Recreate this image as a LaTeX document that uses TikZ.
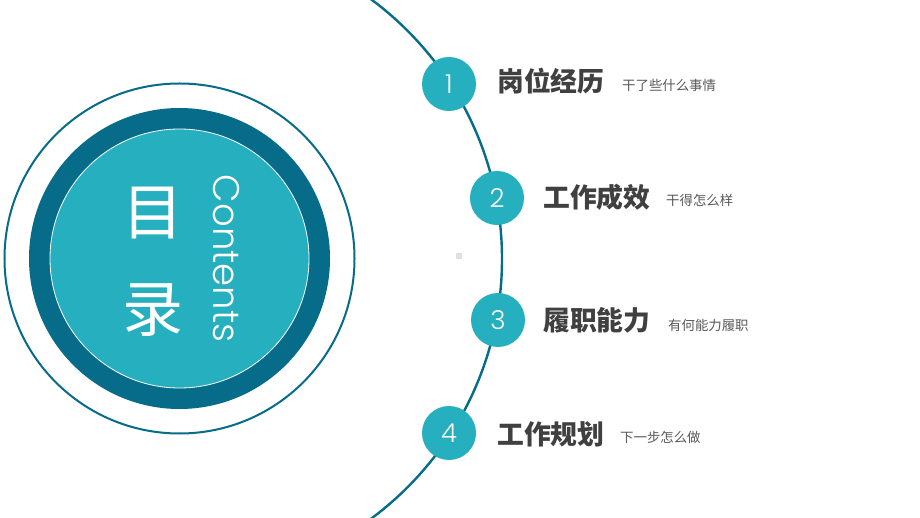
\documentclass[tikz,border=0pt]{standalone}
\usepackage{fontspec}
\setmainfont{Poppins}
\newfontfamily\cjk{Noto Sans CJK SC}
\newfontfamily\thinfont{Poppins Light}
\definecolor{darkteal}{RGB}{6,108,138}
\definecolor{lightteal}{RGB}{37,175,191}
\definecolor{titlegray}{RGB}{64,64,64}
\definecolor{subgray}{RGB}{89,89,89}
\definecolor{dotgray}{RGB}{224,224,224}
\tikzset{
  numcircle/.style={circle, fill=lightteal, minimum size=54pt, inner sep=0pt, text=white, font=\thinfont\fontsize{26}{26}\selectfont},
  titletext/.style={anchor=west, inner sep=0pt, text=titlegray, font=\cjk\bfseries\fontsize{26.8}{26.8}\selectfont},
  subtext/.style={anchor=west, inner sep=0pt, text=subgray, font=\cjk\fontsize{13.4}{13.4}\selectfont},
}
\begin{document}
\begin{tikzpicture}[x=1pt,y=-1pt]
\useasboundingbox (0,0) rectangle (920,518);
\fill[white] (0,0) rectangle (920,518);
% big arc
\begin{scope}
\clip (0,0) rectangle (920,518);
\draw[darkteal, line width=2.4pt] (179,259) circle[radius=323];
\end{scope}
% left circles
\draw[darkteal, line width=2pt] (179.5,258.5) circle[radius=175];
\fill[darkteal] (179.5,258.5) circle[radius=150.5];
\fill[lightteal, draw=white, line width=0.8pt] (179.5,258.5) circle[radius=129.5];
\node[text=white, font=\cjk\fontsize{61}{61}\selectfont, inner sep=0pt] (mu) at (153,213) {目};
\node[text=white, font=\cjk\fontsize{61}{61}\selectfont, inner sep=0pt] (lu) at (153,310) {录};
\node[text=white, font=\thinfont\fontsize{37}{37}\selectfont, rotate=-90, inner sep=0pt] (contents) at (226,258.5) {Contents};
% small gray square
\fill[dotgray] (456,253) rectangle (462,259);
% numbered items
\node[numcircle] (n1) at (449,84) {1};
\node[numcircle] (n2) at (497,198) {2};
\node[numcircle] (n3) at (498,320) {3};
\node[numcircle] (n4) at (449,433) {4};
\node[titletext] (t1) at (497,81) {岗位经历};
\node[subtext] (s1) at (622,85) {干了些什么事情};
\node[titletext] (t2) at (543,197) {工作成效};
\node[subtext] (s2) at (666,200) {干得怎么样};
\node[titletext] (t3) at (543,320) {履职能力};
\node[subtext] (s3) at (668,325) {有何能力履职};
\node[titletext] (t4) at (497,434) {工作规划};
\node[subtext] (s4) at (620,437) {下一步怎么做};
\end{tikzpicture}
\end{document}
